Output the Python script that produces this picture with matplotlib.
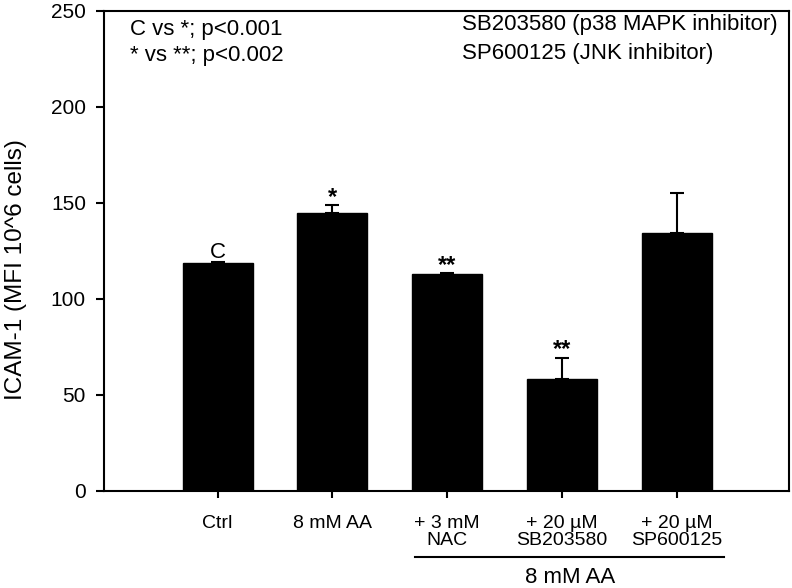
import matplotlib
matplotlib.use("Agg")
import matplotlib.pyplot as plt
import matplotlib.transforms as mtransforms

plt.rcParams['font.family'] = ['Liberation Sans', 'DejaVu Sans']

categories = ["Ctrl", "8 mM AA", "+ 3 mM\nNAC", "+ 20 µM\nSB203580", "+ 20 µM\nSP600125"]
values = [118.6, 145.0, 112.9, 58.5, 134.5]
errors = [0.8, 4.0, 0.5, 11.0, 20.5]
sig_labels = ["C", "*", "**", "**", ""]
yticks = [0, 50, 100, 150, 200, 250]

fig = plt.figure(figsize=(7.92, 5.88), dpi=100)
ax = fig.add_axes([104/792, 1-491/588, 685/792, 480/588])

x = list(range(len(categories)))
ax.bar(x, values, width=0.61, color='black', edgecolor='black', zorder=2)
ax.errorbar(x, values, yerr=[[0]*len(errors), errors], fmt='none', ecolor='black',
            elinewidth=1.5, capsize=4.7, capthick=1.5, zorder=3)

for xi, v, e, lab in zip(x, values, errors, sig_labels):
    if lab == "C":
        ax.annotate(lab, (xi, v + e), xytext=(0, 3), textcoords='offset points',
                    ha='center', va='baseline', fontsize=16)
    elif lab:
        ax.annotate(lab, (xi, v + e), xytext=(0, 1), textcoords='offset points',
                    ha='center', va='baseline', fontsize=17, fontweight='bold')

ax.set_xlim(-0.99, 4.98)
ax.set_ylim(0, 250)
ax.set_yticks(yticks)
ax.set_yticklabels([str(t) for t in yticks], fontsize=15)
ax.set_xticks(x)
ax.set_xticklabels(categories, fontsize=14, linespacing=1.05)
ax.tick_params(axis='y', direction='out', length=6, width=1.5, pad=7)
ax.tick_params(axis='x', direction='out', length=5, width=1.5, pad=12)
for s in ax.spines.values():
    s.set_linewidth(1.5)

ax.text(0.038, 0.9625, "C vs *; p<0.001", transform=ax.transAxes, fontsize=16,
        ha='left', va='center')
ax.text(0.038, 0.908, "* vs **; p<0.002", transform=ax.transAxes, fontsize=16,
        ha='left', va='center')
ax.text(0.522, 0.971, "SB203580 (p38 MAPK inhibitor)", transform=ax.transAxes,
        fontsize=16, ha='left', va='center')
ax.text(0.522, 0.9125, "SP600125 (JNK inhibitor)", transform=ax.transAxes,
        fontsize=16, ha='left', va='center')

trans = mtransforms.blended_transform_factory(ax.transData, ax.transAxes)
ax.plot([1.723, 4.41], [-0.137, -0.137], color='black', lw=1.5,
        transform=trans, clip_on=False)
ax.text(3.07, -0.181, "8 mM AA", transform=trans, fontsize=16,
        ha='center', va='center')

fig.text(16/792, 1-270/588, "ICAM-1 (MFI 10^6 cells)", rotation=90,
         fontsize=17.5, ha='center', va='center')

fig.savefig("out.png", dpi=100)
